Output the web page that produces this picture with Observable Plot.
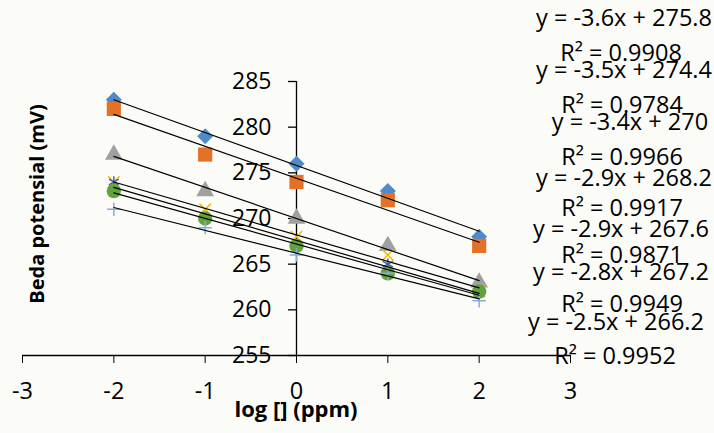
<!DOCTYPE html>
<html>
<head>
<meta charset="utf-8">
<script src="https://cdn.jsdelivr.net/npm/d3@7"></script>
<script src="https://cdn.jsdelivr.net/npm/@observablehq/plot@0.6"></script>
<style>
  html, body { margin: 0; padding: 0; background: #fbfbf8; }
  #chart { width: 714px; height: 433px; }
</style>
</head>
<body>
<div id="chart"></div>
<script>
// ---- data ----
const xValues = [-2, -1, 0, 1, 2];
const seriesNames = ["Seri 1", "Seri 2", "Seri 3", "Seri 4", "Seri 5", "Seri 6", "Seri 7"];
const s1Values = [283, 279, 276, 273, 268];
const s2Values = [282, 277, 274, 272, 267];
const s3Values = [277, 273, 270, 267, 263];
const s4Values = [274, 271, 268, 266, 262];
const s5Values = [274, 270, 267, 265, 262];
const s6Values = [273, 270, 267, 264, 262];
const s7Values = [271, 269, 266, 264, 261];
const eqLabels = ["y = -3.6x + 275.8", "y = -3.5x + 274.4", "y = -3.4x + 270", "y = -2.9x + 268.2",
                  "y = -2.9x + 267.6", "y = -2.8x + 267.2", "y = -2.5x + 266.2"];
const r2Labels = ["R² = 0.9908", "R² = 0.9784", "R² = 0.9966", "R² = 0.9917",
                  "R² = 0.9871", "R² = 0.9949", "R² = 0.9952"];
const xTicks = [-3, -2, -1, 0, 1, 2, 3];
const yTicks = [255, 260, 265, 270, 275, 280, 285];
const xTitle = "log [] (ppm)";
const yTitle = "Beda potensial (mV)";

// ---- styles ----
const seriesValues = [s1Values, s2Values, s3Values, s4Values, s5Values, s6Values, s7Values];
const symbols = ["diamond2", "square", "triangle", "times", "asterisk", "circle", "plus"];
const colors = ["#4f8bc9", "#e57128", "#a0a0a0", "#f5b800", "#3f63b0", "#62a23e", "#86acdf"];
const filled = [true, true, true, false, false, true, false];
const radii = [7.2, 8, 6.6, 5.3, 5.4, 7.2, 4.4];
// label layout (centre x, baseline y in px)
const eqPos = [[624, 26], [624, 78], [630, 130], [624, 186], [621, 237], [621, 280], [616, 330]];
const r2Pos = [[621, 61], [622, 113], [622, 165], [622, 216], [622, 263], [622, 312], [615, 364]];

const FONT = "'Open Sans', sans-serif";

const table = seriesValues.flatMap((vals, i) =>
  vals.map((v, j) => ({series: seriesNames[i], x: xValues[j], y: v})));

const dotMarks = seriesNames.map((name, i) =>
  Plot.dot(table.filter(d => d.series === name), {
    x: "x", y: "y", symbol: () => symbols[i], r: radii[i],
    fill: filled[i] ? colors[i] : "none",
    stroke: filled[i] ? "none" : colors[i],
    strokeWidth: 1.5
  }));

const trendMarks = seriesNames.map(name =>
  Plot.linearRegressionY(table.filter(d => d.series === name), {
    x: "x", y: "y", ci: 0, stroke: "black", strokeWidth: 1.2
  }));

const chart = Plot.plot({
  width: 714,
  height: 433,
  marginLeft: 22,
  marginRight: 144,
  marginTop: 81,
  marginBottom: 78,
  style: {background: "#fbfbf8", fontFamily: FONT, fontSize: "23.5px", color: "black"},
  x: {domain: [-3, 3], ticks: xTicks, tickSize: 8, tickPadding: 19, tickFormat: d => String(d), label: null},
  y: {domain: [255, 285], axis: null},
  symbol: {type: "identity"},
  marks: [
    Plot.ruleY([255], {stroke: "black", strokeWidth: 1.3}),
    Plot.ruleX([0], {stroke: "black", strokeWidth: 1.3}),
    Plot.ruleY(yTicks, {x1: () => 0, x2: () => 0, insetLeft: -8, stroke: "black", strokeWidth: 1.3}),
    Plot.text(yTicks, {x: () => 0, y: d => d, text: d => String(d), textAnchor: "end", dx: -25, fontSize: 23}),
    ...dotMarks,
    ...trendMarks
  ]
});

document.getElementById("chart").appendChild(chart);

// ---- titles and trendline labels ----
const svg = d3.select(chart);
svg.append("text")
  .attr("x", 296).attr("y", 417)
  .attr("text-anchor", "middle")
  .style("font-family", FONT).style("font-size", "22px").style("font-weight", "bold")
  .text(xTitle);
svg.append("text")
  .attr("transform", "translate(44,204) rotate(-90)")
  .attr("text-anchor", "middle")
  .style("font-family", FONT).style("font-size", "20px").style("font-weight", "bold")
  .text(yTitle);
const lab = svg.append("g")
  .style("font-family", FONT).style("font-size", "23.5px").attr("text-anchor", "middle");
eqLabels.forEach((t, i) => lab.append("text").attr("x", eqPos[i][0]).attr("y", eqPos[i][1]).text(t));
r2Labels.forEach((t, i) => lab.append("text").attr("x", r2Pos[i][0]).attr("y", r2Pos[i][1]).text(t));
</script>
</body>
</html>
